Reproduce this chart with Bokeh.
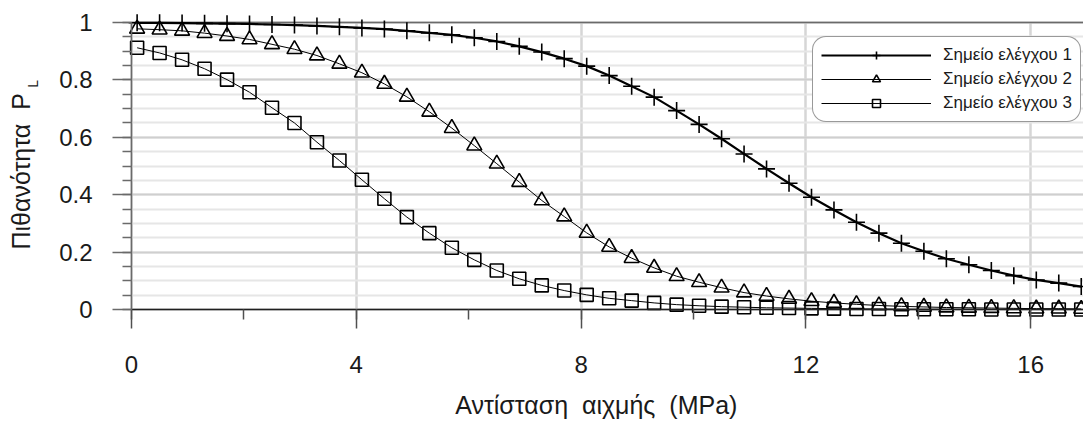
from bokeh.plotting import figure
from bokeh.models import (Range1d, SingleIntervalTicker, FixedTicker, CustomJSTickFormatter, Label,
                          Legend, LegendItem, LinearAxis, Grid)
from bokeh.embed import file_html
from bokeh.resources import INLINE

# ---- data ----
resistance = [0.1, 0.5, 0.9, 1.3, 1.7, 2.1, 2.5, 2.9, 3.3, 3.7, 4.1, 4.5, 4.9, 5.3,
              5.7, 6.1, 6.5, 6.9, 7.3, 7.7, 8.1, 8.5, 8.9, 9.3, 9.7, 10.1, 10.5,
              10.9, 11.3, 11.7, 12.1, 12.5, 12.9, 13.3, 13.7, 14.1, 14.5, 14.9, 15.3,
              15.7, 16.1, 16.5, 16.9]

p_point1 = [0.999, 0.999, 0.998, 0.997, 0.996, 0.995, 0.993, 0.991, 0.988, 0.985, 0.981,
            0.977, 0.971, 0.964, 0.957, 0.947, 0.934, 0.917, 0.897, 0.874, 0.848, 0.815,
            0.778, 0.740, 0.693, 0.645, 0.595, 0.542, 0.490, 0.440, 0.391, 0.347, 0.304,
            0.266, 0.231, 0.203, 0.177, 0.156, 0.136, 0.118, 0.103, 0.092, 0.080]

p_point2 = [0.978, 0.975, 0.971, 0.963, 0.953, 0.941, 0.924, 0.907, 0.885, 0.856, 0.825,
            0.786, 0.741, 0.689, 0.632, 0.571, 0.508, 0.444, 0.380, 0.324, 0.267, 0.218,
            0.179, 0.145, 0.116, 0.095, 0.076, 0.059, 0.047, 0.037, 0.029, 0.023, 0.018,
            0.014, 0.011, 0.009, 0.007, 0.006, 0.005, 0.004, 0.003, 0.003, 0.002]

p_point3 = [0.912, 0.894, 0.870, 0.839, 0.801, 0.757, 0.703, 0.650, 0.583, 0.519, 0.452,
            0.386, 0.322, 0.266, 0.215, 0.173, 0.136, 0.107, 0.084, 0.066, 0.051, 0.039,
            0.031, 0.023, 0.017, 0.013, 0.010, 0.008, 0.006, 0.005, 0.004, 0.003, 0.002,
            0.002, 0.001, 0.001, 0.001, 0.001, 0.0, 0.0, 0.0, 0.0, 0.0]

series_names = ["Σημείο ελέγχου 1", "Σημείο ελέγχου 2", "Σημείο ελέγχου 3"]
x_title = "Αντίσταση\u00a0 αιχμής\u00a0 (MPa)"
y_title = "Πιθανότητα\u00a0 P"
y_title_sub = "L"

X_MIN, X_MAX = 0, 16.94
Y_MIN, Y_MAX = 0, 1

FONT = "Liberation Sans"

# the frame covers the whole canvas; axes are placed at data zero
p = figure(width=1083, height=422, output_backend="svg", toolbar_location=None,
           x_range=Range1d(-2.331, X_MAX), y_range=Range1d(-0.3937, 1.0767),
           x_axis_type=None, y_axis_type=None,
           min_border_left=0, min_border_right=0, min_border_top=0, min_border_bottom=0)
p.outline_line_color = None
p.background_fill_color = "white"
p.border_fill_color = "white"

xt = SingleIntervalTicker(interval=4, num_minor_ticks=2)
yt = SingleIntervalTicker(interval=0.2, num_minor_ticks=4)

# grids
xgrid = Grid(dimension=0, ticker=xt, grid_line_color="#d6d6d6", grid_line_width=2.5,
             bounds=(X_MIN, X_MAX), cross_bounds=(Y_MIN, Y_MAX))
ygrid = Grid(dimension=1, ticker=yt, grid_line_color="#cfcfcf", grid_line_width=2,
             minor_grid_line_color="#e6e6e6", minor_grid_line_width=2,
             bounds=(Y_MIN, Y_MAX), cross_bounds=(X_MIN, X_MAX))
topline = Grid(dimension=1, ticker=FixedTicker(ticks=[Y_MAX]), grid_line_color="#6a6a6a",
               grid_line_width=1.5, cross_bounds=(X_MIN, X_MAX))
p.add_layout(xgrid)
p.add_layout(ygrid)
p.add_layout(topline)

# axes
yaxis = LinearAxis(ticker=yt, bounds=(Y_MIN, Y_MAX), fixed_location=0,
                   formatter=CustomJSTickFormatter(code="return String(Math.round(tick*100)/100)"))
yaxis.major_tick_out = 19
yaxis.major_tick_in = 0
yaxis.minor_tick_out = 9
yaxis.minor_tick_in = 0
yaxis.axis_line_color = "#6a6a6a"
yaxis.major_tick_line_color = "#6a6a6a"
yaxis.minor_tick_line_color = "#6a6a6a"
yaxis.axis_line_width = 1.5
yaxis.major_tick_line_width = 1.5
yaxis.minor_tick_line_width = 1.5
yaxis.major_label_text_font = FONT
yaxis.major_label_text_font_size = "24px"
yaxis.major_label_text_color = "#1a1a1a"
yaxis.major_label_standoff = 20
p.add_layout(yaxis, "left")

xaxis = LinearAxis(ticker=xt, bounds=(X_MIN, X_MAX), fixed_location=0)
xaxis.major_tick_out = 19
xaxis.major_tick_in = 0
xaxis.minor_tick_out = 10
xaxis.minor_tick_in = 0
xaxis.axis_line_color = "#202020"
xaxis.major_tick_line_color = "#505050"
xaxis.minor_tick_line_color = "#505050"
xaxis.axis_line_width = 1.5
xaxis.major_tick_line_width = 1.5
xaxis.minor_tick_line_width = 1.5
xaxis.major_label_text_font = FONT
xaxis.major_label_text_font_size = "24px"
xaxis.major_label_text_color = "#1a1a1a"
xaxis.major_label_standoff = 27
p.add_layout(xaxis, "below")

# series
l3 = p.line(resistance, p_point3, line_color="black", line_width=1)
s3 = p.scatter(resistance, p_point3, marker="square", size=13, line_color="black",
               line_width=1.6, fill_alpha=0)
l2 = p.line(resistance, p_point2, line_color="black", line_width=1)
s2 = p.scatter(resistance, p_point2, marker="triangle", size=15, line_color="black",
               line_width=1.6, fill_alpha=0)
l1 = p.line(resistance, p_point1, line_color="black", line_width=2.2)
s1 = p.scatter(resistance, p_point1, marker="cross", size=17, line_color="black",
               line_width=1.6)

legend = Legend(items=[LegendItem(label=series_names[0], renderers=[l1, s1]),
                       LegendItem(label=series_names[1], renderers=[l2, s2]),
                       LegendItem(label=series_names[2], renderers=[l3, s3])],
                location=(812, 300), glyph_width=110, glyph_height=20, label_standoff=12,
                label_width=112, label_height=20,
                padding=8, spacing=4, margin=0,
                label_text_font=FONT, label_text_font_size="17px", label_text_color="#1a1a1a",
                border_line_color="#333333", border_line_width=1.2, border_radius=14,
                background_fill_color="white", background_fill_alpha=1)
p.add_layout(legend)

# axis titles
p.add_layout(Label(x=8.27, y=-0.3335, text=x_title, text_font=FONT, text_font_size="25px",
                   text_align="center", text_baseline="alphabetic", text_color="#1a1a1a"))
p.add_layout(Label(x=-1.975, y=0.209, text=y_title, angle=90, angle_units="deg",
                   text_font=FONT, text_font_size="25px", text_align="left",
                   text_baseline="alphabetic", text_color="#1a1a1a"))
p.add_layout(Label(x=-1.76, y=0.773, text=y_title_sub, angle=90, angle_units="deg",
                   text_font=FONT, text_font_size="14px", text_align="left",
                   text_baseline="alphabetic", text_color="#1a1a1a"))

open("out.html", "w").write(file_html(p, INLINE))
